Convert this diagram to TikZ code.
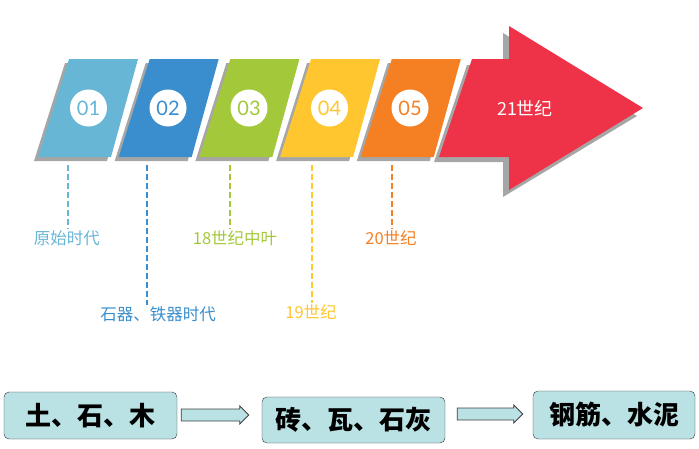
\documentclass[tikz,border=0pt]{standalone}
\usepackage{fontspec}
\setmainfont{Noto Sans CJK SC}
\newfontfamily\numfont{Lato}
\usetikzlibrary{arrows.meta, positioning, calc}
\usepackage{xcolor}
\definecolor{eraone}{RGB}{104,182,213}
\definecolor{eratwo}{RGB}{58,142,205}
\definecolor{erathree}{RGB}{163,201,58}
\definecolor{erafour}{RGB}{255,198,48}
\definecolor{erafive}{RGB}{245,128,35}
\definecolor{eranow}{RGB}{238,51,72}
\definecolor{shadowgray}{RGB}{166,166,166}
\definecolor{boxteal}{RGB}{186,225,228}

\begin{document}
\begin{tikzpicture}[x=1pt, y=-1pt,
  numcirc/.style={circle, fill=white, minimum size=37pt, inner sep=0pt, font=\numfont\fontsize{20}{20}\selectfont},
  eralabel/.style={inner sep=1pt, font=\fontsize{16.5}{16.5}\selectfont},
  dashline/.style={line width=1.3pt, dash pattern=on 6pt off 3pt},
  matbox/.style={draw=black!80, rounded corners=5pt, fill=boxteal, inner sep=0pt, font=\bfseries\fontsize{26}{26}\selectfont},
  blockarrow/.style={draw=black!75, fill=boxteal, line width=0.8pt, to path={let \p1=(\tikztostart), \p2=(\tikztotarget) in
    (\x1,\y1+6pt) -- (\x2-9pt,\y1+6pt) -- (\x2-9pt,\y1+9pt) -- (\x2,\y1) -- (\x2-9pt,\y1-9pt) -- (\x2-9pt,\y1-6pt) -- (\x1,\y1-6pt) -- cycle}}]
\useasboundingbox (0,0) rectangle (699,448);

% shadows
\fill[shadowgray] (65,63) -- (134,63) -- (107,161) -- (34,161) -- cycle;
\fill[shadowgray] (145.7,63) -- (214.7,63) -- (187.7,161) -- (114.7,161) -- cycle;
\fill[shadowgray] (226.4,63) -- (295.4,63) -- (268.4,161) -- (195.4,161) -- cycle;
\fill[shadowgray] (307.1,63) -- (376.1,63) -- (349.1,161) -- (276.1,161) -- cycle;
\fill[shadowgray] (387.8,63) -- (456.8,63) -- (429.8,161) -- (356.8,161) -- cycle;
\fill[shadowgray] (467,65) -- (503,65) -- (503,33) -- (637,116) -- (503,197) -- (503,162) -- (434,162) -- cycle;

% stages
\fill[eraone] (69,59) -- (138,59) -- (111,157) -- (38,157) -- cycle;
\fill[eratwo] (149.7,59) -- (218.7,59) -- (191.7,157) -- (118.7,157) -- cycle;
\fill[erathree] (230.4,59) -- (299.4,59) -- (272.4,157) -- (199.4,157) -- cycle;
\fill[erafour] (311.1,59) -- (380.1,59) -- (353.1,157) -- (280.1,157) -- cycle;
\fill[erafive] (391.8,59) -- (460.8,59) -- (433.8,157) -- (360.8,157) -- cycle;
\fill[eranow] (472,59) -- (509,59) -- (509,26) -- (643,108) -- (509,190) -- (509,157) -- (439,157) -- cycle;

\node[numcirc, text=eraone] (n1) at (88.5,108) {01};
\node[numcirc, text=eratwo] (n2) at (168,108) {02};
\node[numcirc, text=erathree] (n3) at (249,108) {03};
\node[numcirc, text=erafour] (n4) at (329.5,108) {04};
\node[numcirc, text=erafive] (n5) at (410,108) {05};
\node[text=white, font=\fontsize{18}{18}\selectfont] (now) at (525,108) {21世纪};

% era labels
\coordinate (c1) at (68,165);
\coordinate (c2) at (147,165);
\coordinate (c3) at (230,165);
\coordinate (c4) at (312,165);
\coordinate (c5) at (392,165);
\node[eralabel, text=eraone] (l1) at (67,238) {原始时代};
\node[eralabel, text=eratwo] (l2) at (158,314) {石器、铁器时代};
\node[eralabel, text=erathree] (l3) at (235,238) {18世纪中叶};
\node[eralabel, text=erafour] (l4) at (311,312) {19世纪};
\node[eralabel, text=erafive] (l5) at (391,238) {20世纪};
\draw[dashline, eraone] (c1) -- (l1.north -| c1);
\draw[dashline, eratwo] (c2) -- (l2.north -| c2);
\draw[dashline, erathree] (c3) -- (l3.north -| c3);
\draw[dashline, erafour] (c4) -- (l4.north -| c4);
\draw[dashline, erafive] (c5) -- (l5.north -| c5);

% materials
\node[matbox, minimum width=173pt, minimum height=47pt] (b1) at (90.5,415.5) {土、石、木};
\node[matbox, minimum width=183pt, minimum height=46pt] (b2) at (353.5,420) {砖、瓦、石灰};
\node[matbox, minimum width=162pt, minimum height=48pt] (b3) at (614,415) {钢筋、水泥};
\draw[blockarrow] ([xshift=4pt,yshift=0.5pt]b1.east) to ([xshift=-13pt]b2.west);
\draw[blockarrow] ([xshift=12pt,yshift=6pt]b2.east) to ([xshift=-10pt]b3.west);
\end{tikzpicture}
\end{document}
